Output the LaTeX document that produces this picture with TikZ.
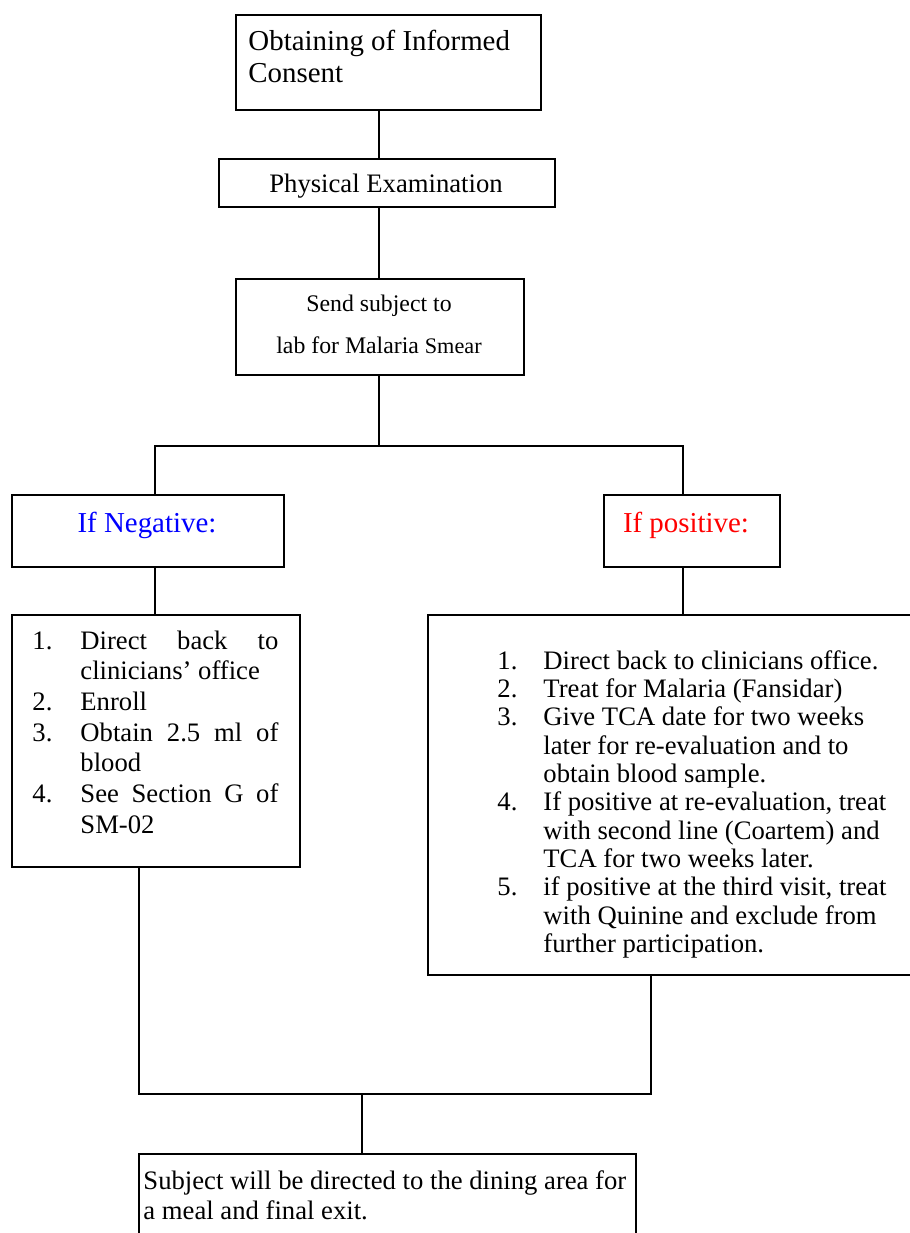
\documentclass[tikz,border=0pt]{standalone}
\usepackage{fontspec}
\setmainfont{Liberation Serif}[Ligatures=CommonOff]
\usepackage{xcolor}

\begin{document}
\begin{tikzpicture}[x=0.45pt, y=-0.45pt,
        box/.style 2 args={draw, line width=0.9pt, inner sep=0pt, anchor=north west,
            minimum width=#1*0.45pt, minimum height=#2*0.45pt},
        txt/.style={inner sep=0pt, anchor=base west},
        ctxt/.style={inner sep=0pt, anchor=base},
        link/.style={line width=0.9pt}]
        \useasboundingbox (0,0) rectangle (909,1233);

        % Boxes
        \node[box={305}{95}] (consent) at (235,14) {};
        \node[box={336}{48}] (phys) at (218,158) {};
        \node[box={288}{96}] (smear) at (235,278) {};
        \node[box={272}{72}] (neg) at (11,494) {};
        \node[box={176}{72}] (pos) at (603,494) {};
        \node[box={288}{252}] (neglist) at (11,614) {};
        \node[box={490}{360}] (poslist) at (427,614) {};
        \node[box={497}{130}] (final) at (138,1153) {};

        % Box texts
        \node[txt, font=\fontsize{13}{14.4}\selectfont] (consent-t) at (248,51)
            {\begin{tabular}[t]{@{}l@{}}Obtaining of Informed\\Consent\end{tabular}};
        \node[ctxt, font=\fontsize{12}{13.8}\selectfont] (phys-t) at (386,193) {Physical Examination};
        \node[ctxt, font=\fontsize{10.7}{18.9}\selectfont] (smear-t) at (379,312)
            {\begin{tabular}[t]{@{}c@{}}Send subject to\\lab for Malaria {\fontsize{10}{18.9}\selectfont Smear}\end{tabular}};
        \node[ctxt, font=\fontsize{13}{15}\selectfont, text=blue] (neg-t) at (147,532) {If Negative:};
        \node[ctxt, font=\fontsize{13}{15}\selectfont, text=red] (pos-t) at (686,532) {If positive:};

        % Negative branch list
        \node[txt, font=\fontsize{12}{13.8}\selectfont] (neglist-t) at (32,649) {%
            \begin{tabular}[t]{@{}p{21.6pt}@{}l@{}}
            1. & \makebox[89.1pt][s]{Direct back to}\\
               & clinicians’ office\\
            2. & Enroll\\
            3. & \makebox[89.1pt][s]{Obtain 2.5 ml of}\\
               & blood\\
            4. & \makebox[89.1pt][s]{See Section G of}\\
               & SM-02
            \end{tabular}};

        % Positive branch list
        \node[txt, font=\fontsize{12}{12.75}\selectfont] (poslist-t) at (497,669) {%
            \begin{tabular}[t]{@{}p{20.7pt}@{}l@{}}
            1. & Direct back to clinicians office.\\
            2. & Treat for Malaria (Fansidar)\\
            3. & Give TCA date for two weeks\\
               & later for re-evaluation and to\\
               & obtain blood sample.\\
            4. & If positive at re-evaluation, treat\\
               & with second line (Coartem) and\\
               & TCA for two weeks later.\\
            5. & if positive at the third visit, treat\\
               & with Quinine and exclude from\\
               & further participation.
            \end{tabular}};

        \node[txt, font=\fontsize{12}{13.8}\selectfont] (final-t) at (143,1189)
            {\begin{tabular}[t]{@{}l@{}}Subject will be directed to the dining area for\\a meal and final exit.\end{tabular}};

        % Connectors
        \coordinate (spine) at (379,446);
        \coordinate (jl) at (155,446);
        \coordinate (jr) at (683,446);
        \coordinate (ml) at (139,1094);
        \coordinate (mr) at (651,1094);
        \coordinate (mm) at (362,1094);
        \draw[link] (spine |- consent.south) -- (spine |- phys.north);
        \draw[link] (spine |- phys.south) -- (spine |- smear.north);
        \draw[link] (spine |- smear.south) -- (spine);
        \draw[link] (jl |- neg.north) -- (jl) -- (jr) -- (jr |- pos.north);
        \draw[link] (jl |- neg.south) -- (jl |- neglist.north);
        \draw[link] (jr |- pos.south) -- (jr |- poslist.north);
        \draw[link] (ml |- neglist.south) -- (ml) -- (mr) -- (mr |- poslist.south);
        \draw[link] (mm) -- (mm |- final.north);
\end{tikzpicture}
\end{document}
